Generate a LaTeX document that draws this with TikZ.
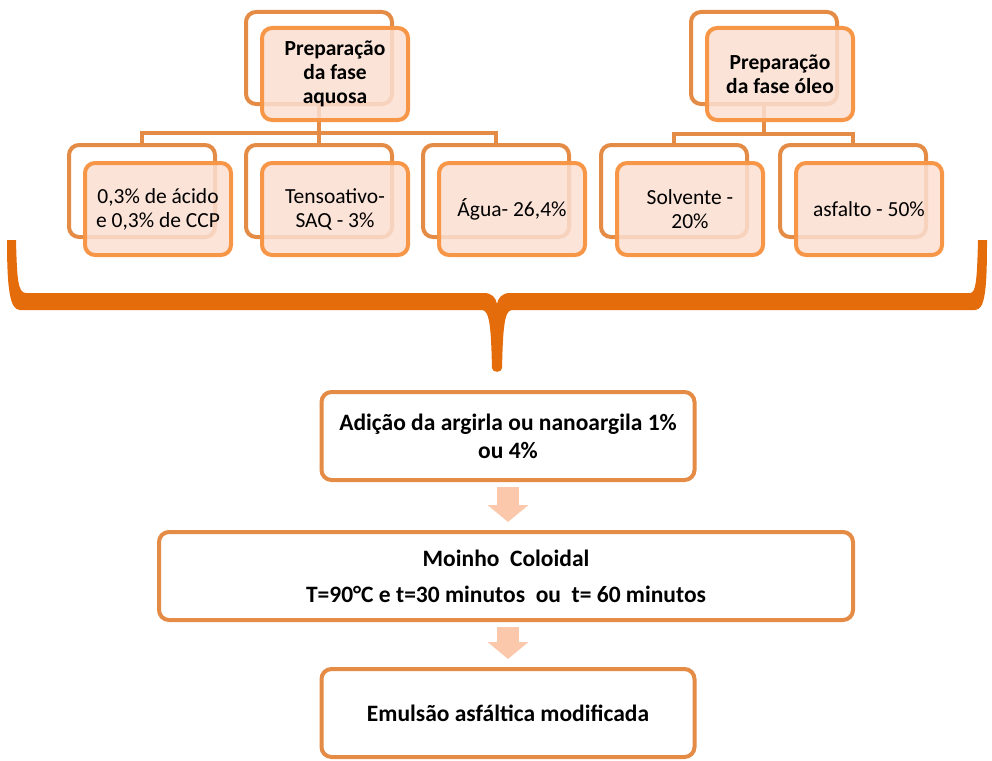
\documentclass[tikz,border=0pt]{standalone}
\usepackage{fontspec}
\setmainfont{Carlito}
\usetikzlibrary{arrows.meta, positioning}
\definecolor{laranja}{HTML}{F79646}
\definecolor{laranjaesc}{HTML}{E48B45}
\definecolor{pessego}{HTML}{FBDFD2}
\definecolor{chave}{HTML}{E46C0A}
\definecolor{setacor}{HTML}{FBC8AC}
\tikzset{
  fundo/.style   = {rectangle, rounded corners=10pt, draw=laranjaesc, line width=4pt, fill=white, minimum width=146pt, minimum height=92pt},
  frente/.style  = {fundo, draw=laranja, fill=pessego, fill opacity=0.85, text opacity=1, align=center, inner sep=2pt, font=\fontsize{21.5}{24}\selectfont},
  titulo/.style  = {frente, font=\bfseries\fontsize{21.5}{24}\selectfont},
  etapa/.style   = {rectangle, rounded corners=10pt, draw=laranjaesc, line width=4pt, fill=white, minimum height=88pt, align=center, font=\bfseries\fontsize{23.5}{28}\selectfont},
  ramo/.style    = {draw=laranjaesc, line width=4pt},
  seta/.style    = {draw=setacor, line width=22pt, -{Triangle[length=17pt, width=40pt]}, shorten <=5pt, shorten >=8pt}
}

\begin{document}
\begin{tikzpicture}[x=1pt, y=-1pt]
  \useasboundingbox (0,0) rectangle (992,760);

  % caixas de fundo
  \node[fundo] (aqb) at (319,58)  {};
  \node[fundo] (olb) at (764,58)  {};
  \node[fundo] (c1b) at (142,191) {};
  \node[fundo] (c2b) at (319,191) {};
  \node[fundo] (c3b) at (496,191) {};
  \node[fundo] (c4b) at (674,191) {};
  \node[fundo] (c5b) at (853,191) {};

  % ramos
  \coordinate (aqj) at (319,133);
  \coordinate (olj) at (764,134);
  \draw[ramo] (aqb.south) -- (aqj);
  \draw[ramo] (aqj) -| (c1b.north);
  \draw[ramo] (aqj) -| (c3b.north);
  \draw[ramo] (aqj) -- (c2b.north);
  \draw[ramo] (olb.south) -- (olj);
  \draw[ramo] (olj) -| (c4b.north);
  \draw[ramo] (olj) -| (c5b.north);

  % caixas da frente
  \node[titulo] (aq) at (335,74)  {Preparação\\da fase\\aquosa};
  \node[titulo] (ol) at (780,74)  {Preparação\\da fase óleo};
  \node[frente] (c1) at (158,209) {0,3\% de ácido\\e 0,3\% de CCP};
  \node[frente] (c2) at (335,209) {Tensoativo-\\SAQ - 3\%};
  \node[frente] (c3) at (512,209) {Água- 26,4\%};
  \node[frente] (c4) at (690,209) {Solvente -\\20\%};
  \node[frente] (c5) at (869,209) {asfalto - 50\%};

  % chave
  \fill[chave] (7,240) -- (16,240) .. controls (17,280) and (18,293) .. (26,293)
    -- (484,293) .. controls (492,293) and (496,298) .. (497,304)
    .. controls (498,298) and (502,293) .. (510,293)
    -- (970,293) .. controls (976,293) and (977,280) .. (978,240)
    -- (987,240) .. controls (987,290) and (985,310) .. (975,310)
    -- (512,310) .. controls (504,310) and (503,330) .. (502,368)
    .. controls (502,373) and (492,373) .. (492,368)
    .. controls (491,330) and (490,310) .. (482,310)
    -- (20,310) .. controls (10,310) and (7,290) .. (7,240) -- cycle;

  % etapas
  \node[etapa, minimum width=373pt] (adic)   at (508,436) {Adição da argirla ou nanoargila 1\%\\ou 4\%};
  \node[etapa, minimum width=694pt] (moinho) at (506,576) {Moinho\ \ Coloidal\\[8pt]T=90°C e t=30 minutos\ \ ou\ \ t= 60 minutos};
  \node[etapa, minimum width=373pt] (emul)   at (508,713) {Emulsão asfáltica modificada};

  \draw[seta] (adic.south) -- (adic.south |- moinho.north);
  \draw[seta] (moinho.south -| adic.south) -- (adic.south |- emul.north);

\end{tikzpicture}
\end{document}
